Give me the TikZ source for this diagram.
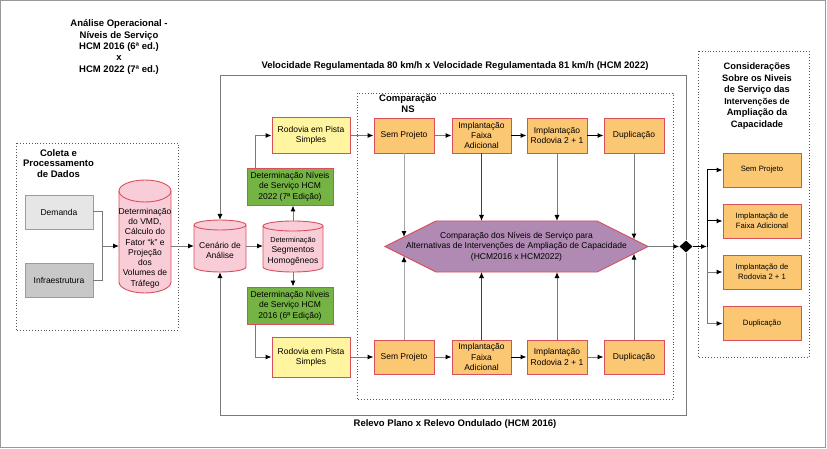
\documentclass[tikz,border=0pt]{standalone}
\usepackage{fontspec}
\setmainfont{Liberation Sans}
\usetikzlibrary{arrows.meta,shapes.geometric}
\definecolor{bred}{HTML}{D9505C}
\definecolor{bpink}{HTML}{E07C86}
\definecolor{forange}{HTML}{FCC772}
\definecolor{fyellow}{HTML}{FFF4A0}
\definecolor{fgreen}{HTML}{74B344}
\definecolor{fpink}{HTML}{F9CDD7}
\definecolor{fhex}{HTML}{B08AB3}
\definecolor{flgray}{HTML}{E6E6E6}
\definecolor{fdgray}{HTML}{C8C8C8}
\definecolor{lgray}{HTML}{7A7A7A}
\definecolor{dotc}{HTML}{555555}
\newcommand{\cylshape}[3]{%
  \filldraw[fill=fpink,draw=bred,line width=0.9pt] ([yshift=-#3]#1.north west) -- ([yshift=#3]#1.south west)
    arc[start angle=180,end angle=360,x radius=#2,y radius=#3] -- ([yshift=-#3]#1.north east)
    arc[start angle=0,end angle=180,x radius=#2,y radius=#3] -- cycle;
  \draw[draw=bred,line width=0.9pt] ([yshift=-#3]#1.north west) arc[start angle=180,end angle=360,x radius=#2,y radius=#3];
}
\begin{document}
\begin{tikzpicture}[x=1pt,y=-1pt,
  box/.style={draw=bred,line width=0.9pt,align=center,inner sep=1pt,font=\fontsize{8.5}{10.3}\selectfont},
  obox/.style={box,fill=forange,minimum width=60pt,minimum height=35pt},
  ybox/.style={box,fill=fyellow,minimum width=78pt,minimum height=36pt},
  gbox/.style={box,fill=fgreen,minimum width=86pt,minimum height=37pt},
  rbox/.style={box,fill=forange,minimum width=78pt,minimum height=34pt,font=\fontsize{7.7}{9.7}\selectfont},
  holder/.style={inner sep=0pt,outer sep=0pt},
  ctext/.style={align=center,inner sep=0pt,font=\fontsize{8.5}{10.3}\selectfont},
  ttl/.style={align=center,inner sep=0pt,font=\bfseries\fontsize{9.5}{11.3}\selectfont},
  conn/.style={draw=lgray,line width=1pt,-{Latex[length=6pt,width=5pt,color=black]}},
  plain/.style={draw=lgray,line width=1pt},
  dotbox/.style={draw=dotc,dotted,line width=0.9pt}]
\useasboundingbox (0,0) rectangle (827,449);
\draw[draw=gray!80,line width=0.8pt] (0.5,0.5) rectangle (825.5,447.5);

% dotted groups
\draw[dotbox] (16,143) rectangle (178,330);
\draw[dotbox] (357,93) rectangle (673,399);
\draw[dotbox] (698,51) rectangle (809,357);

% titles
\node[ttl] (t1) at (119,47) {Análise Operacional -\\Níveis de Serviço\\HCM 2016 (6ª ed.)\\x\\HCM 2022 (7ª ed.)};
\node[ttl] (t2) at (455,66) {Velocidade Regulamentada 80 km/h x Velocidade Regulamentada 81 km/h (HCM 2022)};
\node[ttl] (t3) at (455,424) {Relevo Plano x Relevo Ondulado (HCM 2016)};
\node[ttl,font=\bfseries\fontsize{9.5}{10.5}\selectfont] (t4) at (58.5,163.5) {Coleta e\\Processamento\\de Dados};
\node[ttl,font=\bfseries\fontsize{9.5}{11}\selectfont] (t5) at (408,103.5) {Comparação\\NS};
\node[ttl,font=\bfseries\fontsize{9.3}{11.6}\selectfont] (t6) at (757,96) {Considerações\\Sobre os Niveis\\de Serviço das\\{\fontsize{8.6}{11.6}\selectfont Intervenções de}\\Ampliação da\\Capacidade};

% left boxes
\node[box,fill=flgray,draw=bpink,minimum width=68pt,minimum height=34pt] (dem) at (59,212) {Demanda};
\node[box,fill=fdgray,draw=bpink,minimum width=68pt,minimum height=34pt] (inf) at (59,280) {Infraestrutura};

% cylinders
\node[holder,minimum width=52pt,minimum height=113pt] (vmd) at (145,236.5) {};
\cylshape{vmd}{26pt}{11pt}
\node[ctext] (vmdt) at (145,248) {Determinação\\do VMD,\\Cálculo do\\Fator “k” e\\Projeção\\dos\\Volumes de\\Tráfego};

\node[holder,minimum width=52pt,minimum height=52pt] (cen) at (220,246) {};
\cylshape{cen}{26pt}{5pt}
\node[ctext] (cent) at (220,250.5) {Cenário de\\Análise};

\node[holder,minimum width=60pt,minimum height=51pt] (seg) at (293,246.5) {};
\cylshape{seg}{30pt}{5pt}
\node[ctext] (segt) at (293,251) {{\fontsize{7.3}{10}\selectfont Determinação}\\Segmentos\\Homogêneos};

% green boxes
\node[gbox] (g22) at (290,186.5) {Determinação Níveis\\de Serviço HCM\\2022 (7ª Edição)};
\node[gbox] (g16) at (290,305.5) {Determinação Níveis\\de Serviço HCM\\2016 (6ª Edição)};

% yellow
\node[ybox] (rod1) at (311,135.5) {Rodovia em Pista\\Simples};
\node[ybox,minimum height=40pt] (rod2) at (311,357) {Rodovia em Pista\\Simples};

% orange rows
\node[obox] (sp1) at (404,135.5) {Sem Projeto};
\node[obox,minimum width=59pt] (fa1) at (481.5,135.5) {Implantação\\Faixa\\Adicional};
\node[obox] (r21) at (557,135.5) {Implantação\\Rodovia 2 + 1};
\node[obox] (du1) at (634,135.5) {Duplicação};
\node[obox,minimum height=34pt] (sp2) at (404,357) {Sem Projeto};
\node[obox,minimum width=59pt,minimum height=34pt] (fa2) at (481.5,357) {Implantação\\Faixa\\Adicional};
\node[obox,minimum height=34pt] (r22) at (557,357) {Implantação\\Rodovia 2 + 1};
\node[obox,minimum height=34pt] (du2) at (634,357) {Duplicação};

% hexagon
\coordinate (hW) at (385,246.5);
\coordinate (hTL) at (436,221);
\coordinate (hTR) at (597,221);
\coordinate (hE) at (648,246.5);
\coordinate (hBR) at (597,272);
\coordinate (hBL) at (436,272);
\filldraw[fill=fhex,draw=bred,line width=0.9pt] (hW) -- (hTL) -- (hTR) -- (hE) -- (hBR) -- (hBL) -- cycle;
\node[ctext,font=\fontsize{8.5}{10.5}\selectfont] (hex) at (516.5,246.5) {Comparação dos Níveis de Serviço para\\Alternativas de Intervenções de Ampliação de Capacidade\\(HCM2016 x HCM2022)};
\coordinate (hl1) at (404,237);
\coordinate (hl2) at (404,256);
\coordinate (hr1) at (634,239.5);
\coordinate (hr2) at (634,253.5);

% diamond
\node[diamond,fill=black,inner sep=0pt,minimum width=13pt,minimum height=12pt] (dia) at (686,246.5) {};

% right boxes
\node[rbox] (rs1) at (762,170) {Sem Projeto};
\node[rbox] (rs2) at (762,221) {Implantação de\\Faixa Adicional};
\node[rbox] (rs3) at (762,272) {Implantação de\\Rodovia 2 + 1};
\node[rbox] (rs4) at (762,323.5) {Duplicação};

% connectors left
\coordinate (j1) at (102,246);
\draw[plain] (dem.east) -| (j1);
\draw[plain] (inf.east) -| (j1);
\draw[conn] (j1) -- (j1 -| vmd.west);
\draw[conn] (cen.west -| vmd.east) -- (cen.west);
\draw[conn] (cen.east) -- (cen.east -| seg.west);
\draw[conn] (seg.north) -- (seg.north |- g22.south);
\draw[conn] (seg.south) -- (seg.south |- g16.north);
\draw[conn] ([xshift=-35pt]g22.north) |- (rod1.west);
\draw[conn] ([xshift=-35pt]g16.south) |- (rod2.west);

% rows
\draw[conn] (rod1.east) -- (sp1.west);
\draw[conn] (sp1.east) -- (fa1.west);
\draw[conn,draw=black] (fa1.east) -- (r21.west);
\draw[conn,draw=black] (r21.east) -- (du1.west);
\draw[conn] (rod2.east) -- (sp2.west);
\draw[conn] (sp2.east) -- (fa2.west);
\draw[conn,draw=black] (fa2.east) -- (r22.west);
\draw[conn] (r22.east) -- (du2.west);

% to hexagon
\draw[conn,draw=gray!70] (sp1.south) -- (hl1);
\draw[conn,draw=black!75] (fa1.south) -- (fa1.south |- hTL);
\draw[conn] (r21.south) -- (r21.south |- hTR);
\draw[conn] (du1.south) -- (hr1);
\draw[conn,draw=gray!70] (sp2.north) -- (hl2);
\draw[conn,draw=black!75] (fa2.north) -- (fa2.north |- hBL);
\draw[conn] (r22.north) -- (r22.north |- hBR);
\draw[conn] (du2.north) -- (hr2);

% hexagon to diamond and feedback frame
\draw[conn] (hE) -- (dia.west);
\coordinate (ftl) at (220,76);
\coordinate (fbl) at (220,415);
\draw[conn] (dia.north) |- (ftl) -- (cen.north);
\draw[conn] (dia.south) |- (fbl) -- (cen.south);

% bus to right boxes
\coordinate (bus) at (707,246.5);
\draw[conn,draw=black] (dia.east) -- (bus);
\draw[conn,draw=black] (bus) |- (rs1.west);
\draw[conn,draw=black] (bus) |- (rs2.west);
\draw[conn] (bus) |- (rs3.west);
\draw[conn] (bus) |- (rs4.west);
\end{tikzpicture}
\end{document}
